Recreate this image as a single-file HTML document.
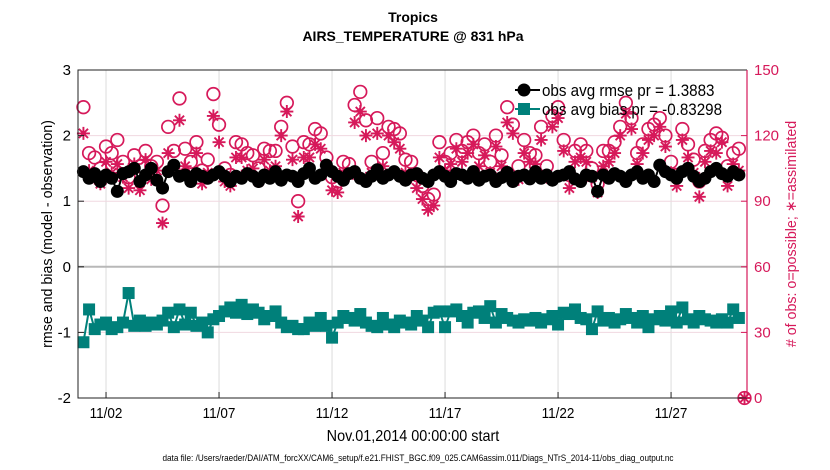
<!DOCTYPE html>
<html><head><meta charset="utf-8"><style>
body{margin:0;background:#fff;}
svg{display:block;font-family:"Liberation Sans",sans-serif;}
</style></head><body>
<svg id="chart" width="830" height="470" viewBox="0 0 830 470">
<rect x="0" y="0" width="830" height="470" fill="#fff"/>
<g id="grid"></g>
<g id="marks"></g>
<g id="axes"></g>
<text x="413" y="22" text-anchor="middle" font-size="14" font-weight="bold">Tropics</text>
<text x="413" y="41" text-anchor="middle" font-size="14" font-weight="bold">AIRS_TEMPERATURE @ 831 hPa</text>
<text x="413" y="441" text-anchor="middle" font-size="16" transform="translate(413 0) scale(0.9 1) translate(-413 0)">Nov.01,2014 00:00:00 start</text>
<text x="418" y="461" text-anchor="middle" font-size="9.5" transform="translate(418 0) scale(0.86 1) translate(-418 0)">data file: /Users/raeder/DAI/ATM_forcXX/CAM6_setup/f.e21.FHIST_BGC.f09_025.CAM6assim.011/Diags_NTrS_2014-11/obs_diag_output.nc</text>
<text transform="translate(52 234) rotate(-90) scale(0.95 1)" text-anchor="middle" font-size="15">rmse and bias (model - observation)</text>
<text transform="translate(796 234) rotate(-90) scale(0.95 1)" text-anchor="middle" font-size="15" fill="#d6195a"># of obs: o=possible; ∗=assimilated</text>
<g id="legend">
<line x1="515" y1="90" x2="540" y2="90" stroke="#000" stroke-width="2"/>
<circle cx="524" cy="90" r="6.5" fill="#000"/>
<text x="542" y="96" font-size="16.5" transform="translate(542 0) scale(0.92 1) translate(-542 0)">obs avg rmse pr = 1.3883</text>
<line x1="515" y1="109" x2="540" y2="109" stroke="#00807a" stroke-width="2"/>
<rect x="518" y="103" width="12" height="12" fill="#00807a"/>
<text x="542" y="115" font-size="16.5" transform="translate(542 0) scale(0.92 1) translate(-542 0)">obs avg bias pr = -0.83298</text>
</g>
</svg>
<script>
const rmse=[1.45,1.35,1.42,1.3,1.4,1.35,1.15,1.42,1.45,1.5,1.3,1.4,1.5,1.32,1.2,1.45,1.55,1.38,1.4,1.3,1.42,1.38,1.35,1.4,1.45,1.38,1.3,1.38,1.35,1.42,1.38,1.3,1.4,1.35,1.45,1.32,1.4,1.38,1.3,1.42,1.5,1.35,1.4,1.55,1.45,1.38,1.32,1.42,1.45,1.35,1.3,1.38,1.48,1.35,1.4,1.45,1.38,1.32,1.4,1.42,1.35,1.3,1.4,1.45,1.38,1.3,1.42,1.4,1.35,1.45,1.32,1.38,1.4,1.3,1.36,1.44,1.3,1.38,1.4,1.34,1.45,1.35,1.4,1.32,1.38,1.4,1.45,1.34,1.3,1.4,1.38,1.15,1.4,1.35,1.42,1.38,1.3,1.4,1.45,1.35,1.4,1.3,1.55,1.45,1.4,1.35,1.45,1.5,1.38,1.3,1.35,1.45,1.5,1.42,1.38,1.45,1.4,null];
const bias=[-1.15,-0.65,-0.95,-0.88,-0.85,-0.95,-0.92,-0.85,-0.4,-0.9,-0.82,-0.9,-0.85,-0.88,-0.82,-0.7,-0.92,-0.65,-0.88,-0.7,-0.9,-0.85,-1.0,-0.8,-0.75,-0.68,-0.62,-0.7,-0.58,-0.72,-0.65,-0.7,-0.8,-0.75,-0.68,-0.85,-0.92,-0.9,-0.95,-0.95,-0.85,-0.9,-0.78,-0.9,-1.08,-0.85,-0.75,-0.78,-0.82,-0.72,-0.85,-0.9,-0.92,-0.78,-0.88,-0.92,-0.82,-0.85,-0.88,-0.75,-0.82,-0.92,-0.7,-0.68,-0.92,-0.68,-0.65,-0.75,-0.85,-0.7,-0.68,-0.78,-0.6,-0.85,-0.72,-0.78,-0.82,-0.85,-0.8,-0.82,-0.78,-0.85,-0.8,-0.75,-0.88,-0.7,-0.72,-0.65,-0.78,-0.8,-0.95,-0.68,-0.82,-0.78,-0.85,-0.8,-0.72,-0.78,-0.85,-0.75,-0.92,-0.8,-0.75,-0.82,-0.68,-0.85,-0.62,-0.8,-0.85,-0.75,-0.8,-0.82,-0.85,-0.8,-0.85,-0.65,-0.78,null];
const possible=[133,112,110,105,115,112,118,108,101,111,106,113,106,108,88,124,113,137,114,108,117,104,109,139,125,105,102,117,116,112,111,105,114,113,113,124,135,115,90,117,116,123,121,110,101,99,108,107,134,140,127,108,128,112,124,123,121,109,108,102,97,91,93,117,108,112,118,113,117,120,112,116,108,120,111,133,125,106,118,112,111,124,106,129,133,118,102,113,116,113,105,98,113,113,117,124,135,128,112,116,123,125,128,120,108,102,123,116,109,99,113,118,121,119,106,112,114,0];
const assimilated=[121,104,101,98,108,103,107,101,96,107,95,109,100,104,80,112,105,127,106,100,112,98,103,129,117,99,97,110,110,104,105,99,109,104,106,120,131,109,83,110,110,116,114,106,95,94,103,102,126,131,120,103,121,106,120,117,114,103,101,96,91,86,88,110,104,107,114,108,112,116,106,111,103,115,106,126,121,100,112,108,107,118,101,124,128,113,96,108,110,108,101,94,106,108,112,120,130,123,107,112,118,120,124,115,103,97,118,110,103,92,108,113,112,117,97,107,104,0];
const tStep=0.25;
const xTickLabels=["11/02","11/07","11/12","11/17","11/22","11/27"];
const xTickDays=[1,6,11,16,21,26];
const yLeftTicks=[3,2,1,0,-1,-2];
const yRightTicks=[150,120,90,60,30,0];

const L=78,R=747,T=70,B=398;
const X=t=>L+(t+0.24)/(29.36+0.24)*(R-L);
const YL=v=>B-(v+2)/5*(B-T);
const YR=v=>B-v/150*(B-T);
const NS="http://www.w3.org/2000/svg";
function mk(tag,attrs,parent){const e=document.createElementNS(NS,tag);for(const k in attrs)e.setAttribute(k,attrs[k]);parent.appendChild(e);return e;}
const grid=document.getElementById('grid'),marks=document.getElementById('marks'),axes=document.getElementById('axes');
const PINK="#d6195a",TEAL="#00807a";

xTickDays.forEach((d,i)=>{
  const g=mk('line',{x1:X(d),x2:X(d),y1:T,y2:B,stroke:"#dcdcdc","stroke-width":1},grid);
  
  
  const tk=mk('line',{x1:X(d),x2:X(d),y1:B,y2:B-6,stroke:"#222"},axes);
  
  
  const tx=mk('text',{x:X(d),y:B+20,"text-anchor":"middle","font-size":15,transform:`translate(${X(d)} 0) scale(0.9 1) translate(${-X(d)} 0)`},axes);
  tx.textContent=xTickLabels[i];
  
  
});
yLeftTicks.forEach(v=>{
  if(v!==0&&v!==3&&v!==-2){const g=mk('line',{x1:L,x2:R,y1:YL(v),y2:YL(v),stroke:"#f0d8e0","stroke-width":1},grid);
  
  }
  const tk=mk('line',{x1:L,x2:L+6,y1:YL(v),y2:YL(v),stroke:"#222"},axes);
  
  
  const tx=mk('text',{x:L-7,y:YL(v)+5,"text-anchor":"end","font-size":15},axes);
  tx.textContent=v;
  
  
});
const z=mk('line',{x1:L,x2:R,y1:YL(0),y2:YL(0),stroke:"#b8b8b8","stroke-width":2},grid);


yRightTicks.forEach(v=>{
  const tk=mk('line',{x1:R,x2:R-6,y1:YR(v),y2:YR(v),stroke:PINK},axes);
  
  
  const tx=mk('text',{x:R+7,y:YR(v)+5,"font-size":15,fill:PINK},axes);
  tx.textContent=v;
  
  
});
const frame=mk('path',{d:`M${R},${T}H${L}V${B}H${R}`,fill:"none",stroke:"#222","stroke-width":1},axes);


const ra=mk('line',{x1:R,x2:R,y1:T,y2:B,stroke:PINK,"stroke-width":1.2},axes);



function linePath(arr,Y){let d="",pen=false;arr.forEach((v,i)=>{if(v===null){pen=false;return;}d+=(pen?"L":"M")+X(i*tStep).toFixed(1)+","+Y(v).toFixed(1);pen=true;});return d;}
possible.forEach((v,i)=>{
  const c=mk('circle',{cx:X(i*tStep),cy:YR(v),r:6.3,fill:"none",stroke:PINK,"stroke-width":1.7},marks);
  
  
});
assimilated.forEach((v,i)=>{
  const x=X(i*tStep),y=YR(v),r=6.5;let d="";
  for(let a=0;a<4;a++){const an=a*Math.PI/4;d+=`M${x-r*Math.cos(an)},${y-r*Math.sin(an)}L${x+r*Math.cos(an)},${y+r*Math.sin(an)}`;}
  const p=mk('path',{d,stroke:PINK,"stroke-width":1.9},marks);
  
  
});
const lr=mk('path',{d:linePath(rmse,YL),fill:"none",stroke:"#000","stroke-width":2},marks);


rmse.forEach((v,i)=>{if(v===null)return;
  const c=mk('circle',{cx:X(i*tStep),cy:YL(v),r:6.5,fill:"#000"},marks);
  
  
});
const lb=mk('path',{d:linePath(bias,YL),fill:"none",stroke:TEAL,"stroke-width":2},marks);


bias.forEach((v,i)=>{if(v===null)return;
  const r=mk('rect',{x:X(i*tStep)-6,y:YL(v)-6,width:12,height:12,fill:TEAL},marks);
  
  
});
</script>
</body></html>
